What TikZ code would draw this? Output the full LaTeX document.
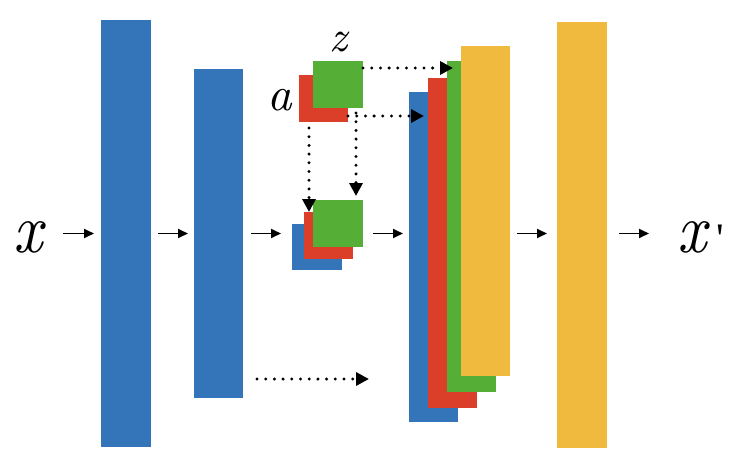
\documentclass[tikz,border=0pt]{standalone}
\usepackage{fontspec}
\newfontfamily\nomap{Liberation Serif}[Ligatures=TeXOff]
\newfontfamily\lmit{lmroman10-italic.otf}
\usetikzlibrary{arrows.meta,calc}
\definecolor{cb}{RGB}{51,117,184}
\definecolor{cr}{RGB}{219,62,41}
\definecolor{cg}{RGB}{85,174,53}
\definecolor{cy}{RGB}{239,186,61}
\begin{document}
\begin{tikzpicture}[x=1pt,y=-1pt,
  blk/.style={inner sep=0pt, outer sep=0pt, anchor=north west, draw=none},
  arr/.style={line width=1.8pt, -{Triangle[length=10pt,width=9pt]}},
  darr/.style={line width=3.3pt, line cap=round, dash pattern=on 0pt off 8.7pt, -{Triangle[length=13pt,width=13pt]}},
  lbl/.style={inner sep=0pt, anchor=base}]
\useasboundingbox[fill=white] (0,0) rectangle (740,471);
% bars
\node[blk, fill=cb, minimum width=50pt, minimum height=427pt] (b1) at (101,20) {};
\node[blk, fill=cb, minimum width=49pt, minimum height=329pt] (b2) at (194,69) {};
% top small pair
\node[blk, fill=cr, minimum width=49pt, minimum height=47pt] (tr) at (299,75) {};
\node[blk, fill=cg, minimum width=50pt, minimum height=47pt] (tg) at (313,61) {};
% bottom small group
\node[blk, fill=cb, minimum width=50pt, minimum height=46pt] (sb) at (292,224) {};
\node[blk, fill=cr, minimum width=49pt, minimum height=47pt] (sr) at (304,212) {};
\node[blk, fill=cg, minimum width=50pt, minimum height=47pt] (sg) at (313,200) {};
% big stack
\node[blk, fill=cb, minimum width=49pt, minimum height=330pt] (bb) at (409,92) {};
\node[blk, fill=cr, minimum width=49pt, minimum height=330pt] (br) at (428,78) {};
\node[blk, fill=cg, minimum width=49pt, minimum height=331pt] (bg) at (447,61) {};
\node[blk, fill=cy, minimum width=49pt, minimum height=330pt] (by) at (461,46) {};
% last bar
\node[blk, fill=cy, minimum width=50pt, minimum height=426pt] (b3) at (557,22) {};
% labels
\node[lbl, xscale=0.9, font=\fontsize{70}{70}\selectfont\lmit] (x) at (28,252) {x};
\node[inner sep=0pt, anchor=base west] (xp) at (677,252) {\scalebox{0.9}[1]{\fontsize{70}{70}\selectfont\lmit x}\hspace{10pt}\fontsize{42}{42}\selectfont\nomap\char"27};
\node[lbl, font=\fontsize{44}{44}\selectfont\lmit] (z) at (338,52) {z};
\node[lbl, font=\fontsize{48}{48}\selectfont\lmit] (a) at (280,110) {a};
% solid arrows
\draw[arr] ($(b1.west)+(-38,0)$) -- ($(b1.west)+(-7,0)$);
\draw[arr] ($(b1.east)+(7,0)$) -- ($(b1.east -| b2.west)+(-6,0)$);
\draw[arr] ($(b1.east -| b2.east)+(8,0)$) -- ($(b1.east -| sb.west)+(-11,0)$);
\draw[arr] ($(b1.east -| sg.east)+(10,0)$) -- ($(b1.east -| bb.west)+(-6,0)$);
\draw[arr] ($(b1.east -| by.east)+(7,0)$) -- ($(b1.east -| b3.west)+(-10,0)$);
\draw[arr] ($(b1.east -| b3.east)+(12,0)$) -- ($(b1.east -| b3.east)+(42,0)$);
% dotted arrows
\draw[darr] ($(tg.north east)+(0,7)$) -- ($(bg.north west)+(6,7)$);
\draw[darr] ($(tr.south east)+(0,-6)$) -- ($(bb.north west)+(15,24)$);
\draw[darr] ($(tr.south west)+(10,6)$) -- ($(sr.north west)+(5,0)$);
\draw[darr] ($(tg.south east)+(-7,5)$) -- ($(sg.north east)+(-7,-4)$);
\draw[darr] ($(b2.south east)+(14,-19)$) -- ($(bb.south west)+(-40,-43)$);
\end{tikzpicture}
\end{document}
